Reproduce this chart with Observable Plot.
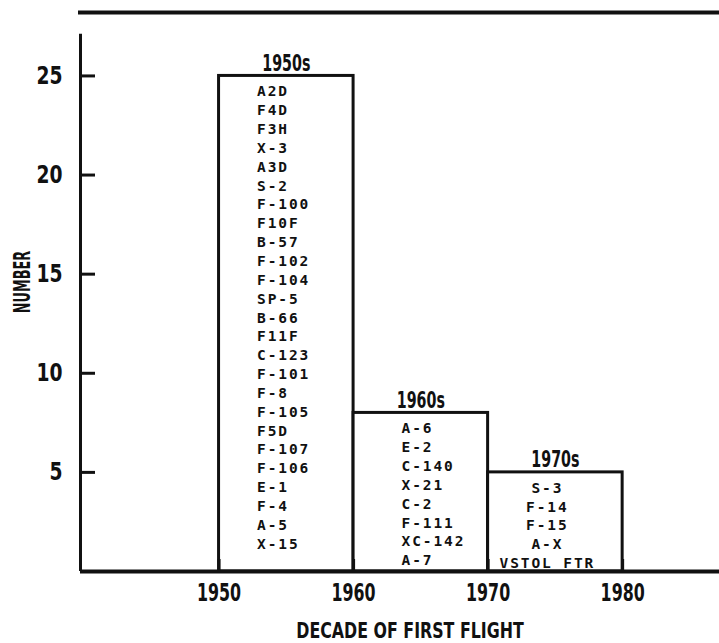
<!DOCTYPE html>
<html><head><meta charset="utf-8">
<script src="https://cdn.jsdelivr.net/npm/d3@7"></script>
<script src="https://cdn.jsdelivr.net/npm/@observablehq/plot@0.6"></script>
<style>
body{margin:0;background:#fff;}
</style></head><body><div id="chart"></div>
<script>
const decades = [1950, 1960, 1970];
const counts = [25, 8, 5];
const decadeLabels = ["1950s", "1960s", "1970s"];
const names1950s = ["A2D","F4D","F3H","X-3","A3D","S-2","F-100","F10F","B-57","F-102","F-104","SP-5","B-66","F11F","C-123","F-101","F-8","F-105","F5D","F-107","F-106","E-1","F-4","A-5","X-15"];
const names1960s = ["A-6","E-2","C-140","X-21","C-2","F-111","XC-142","A-7"];
const names1970s = ["S-3","F-14","F-15","A-X","VSTOL FTR"];
const xTicks = [1950, 1960, 1970, 1980];
const yTicks = [5, 10, 15, 20, 25];
const xLabel = "DECADE OF FIRST FLIGHT";
const yLabel = "NUMBER";
const xDomain = [1939.7, 1987.2];
const yDomain = [0, 28.2];
const yAxisTop = 27.1;

const nameLists = [names1950s, names1960s, names1970s];
const bars = decades.map((d, i) => ({x1: d, x2: d + 10, count: counts[i], label: decadeLabels[i], names: nameLists[i].join("\n")}));

const ink = "#111";
const sans = "'DejaVu Sans', sans-serif";
const nameStyle = {fontFamily: "'DejaVu Sans Mono', monospace", fontWeight: "bold", fontSize: 14.5, lineHeight: 1.3, lineAnchor: "top", dy: 7, fill: ink};

const chart = Plot.plot({
  width: 719, height: 643,
  marginLeft: 80, marginRight: 0, marginTop: 12, marginBottom: 72,
  style: {fontFamily: sans, fontWeight: "bold", background: "#fff", color: ink},
  x: {domain: xDomain, label: null},
  y: {domain: yDomain, label: null},
  marks: [
    Plot.rectY(bars, {x1: "x1", x2: "x2", y: "count", fill: "white", stroke: ink, strokeWidth: 3}),
    Plot.text(bars, {x: d => (d.x1 + d.x2) / 2, y: "count", text: "label", lineAnchor: "bottom", dy: -5, fontSize: 23, fill: ink}),
    Plot.text(bars.slice(0, 1), {x: "x1", y: "count", text: "names", textAnchor: "start", dx: 38, ...nameStyle}),
    Plot.text(bars.slice(1, 2), {x: "x1", y: "count", text: "names", textAnchor: "start", dx: 48, ...nameStyle}),
    Plot.text(bars.slice(2, 3), {x: d => (d.x1 + d.x2) / 2, y: "count", text: "names", textAnchor: "middle", dx: -8, ...nameStyle}),
    Plot.ruleY([0], {stroke: ink, strokeWidth: 4}),
    Plot.ruleY([yDomain[1]], {stroke: ink, strokeWidth: 4, insetLeft: -2}),
    Plot.ruleX([xDomain[0]], {y1: 0, y2: yAxisTop, stroke: ink, strokeWidth: 3}),
    Plot.axisY({ticks: yTicks, tickSize: -15, tickPadding: 33, strokeWidth: 3, fontSize: 24, fill: ink, stroke: ink, label: null}),
    Plot.axisX({ticks: xTicks, tickFormat: "d", tickSize: -12, tickPadding: 24, strokeWidth: 3, fontSize: 24, fill: ink, stroke: ink, label: null}),
    Plot.text([xLabel], {frameAnchor: "bottom", text: d => d, lineAnchor: "bottom", dx: 10, dy: 66, fontSize: 22, fill: ink}),
    Plot.text([yLabel], {frameAnchor: "left", text: d => d, rotate: -90, textAnchor: "middle", lineAnchor: "middle", dx: -58, dy: -10, fontSize: 23, fill: ink})
  ]
});

// horizontal squeeze to mimic the narrow typewriter lettering of the original
const squeeze = (pred, k) => d3.select(chart).selectAll("text").filter(function() { return pred(this.textContent); })
  .attr("transform", function() { return (this.getAttribute("transform") || "") + ` scale(${k},1)`; });
squeeze(t => yTicks.map(String).includes(t), 0.78);
squeeze(t => xTicks.map(String).includes(t), 0.66);
squeeze(t => decadeLabels.includes(t), 0.62);
squeeze(t => t === xLabel, 0.72);
squeeze(t => t === yLabel, 0.56);
d3.select(chart).selectAll("g[font-family*='Mono'] text").attr("letter-spacing", 1.9);

document.getElementById("chart").appendChild(chart);
</script></body></html>
